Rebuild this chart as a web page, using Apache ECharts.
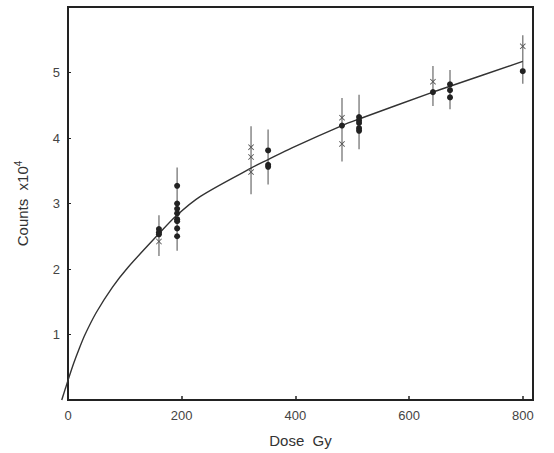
<!DOCTYPE html>
<html>
<head>
<meta charset="utf-8">
<script src="https://cdn.jsdelivr.net/npm/echarts@6/dist/echarts.min.js"></script>
<style>
  html, body { margin: 0; padding: 0; background: #fff; }
  #chart { width: 554px; height: 453px; }
</style>
</head>
<body>
<div id="chart"></div>
<script>
// fitted curve [dose, counts x10^4]
var fitCurve = [
  [0, 0.30], [10, 0.56], [20, 0.79], [30, 1.00], [50, 1.34], [78, 1.72],
  [105, 2.02], [159, 2.53], [190, 2.81], [233, 3.11], [322, 3.54],
  [352, 3.67], [394, 3.85], [482, 4.19], [512, 4.29], [642, 4.70],
  [672, 4.79], [800, 5.17]
];
// short piece of the curve left of the y axis, down to zero
var fitTail = [[-11, 0], [0, 0.30]];

// measured points, filled dots
var dotPoints = [
  [160, 2.61], [160, 2.56], [160, 2.53],
  [192, 3.27], [192, 3.00], [192, 2.92], [192, 2.85], [192, 2.76], [192, 2.73], [192, 2.62], [192, 2.50],
  [352, 3.81], [352, 3.59], [352, 3.56],
  [482, 4.19],
  [512, 4.32], [512, 4.27], [512, 4.23], [512, 4.15], [512, 4.11],
  [642, 4.70],
  [672, 4.82], [672, 4.73], [672, 4.62],
  [800, 5.02]
];

// measured points, crosses
var crossPoints = [
  [160, 2.42],
  [322, 3.86], [322, 3.71], [322, 3.48],
  [482, 4.31], [482, 3.91],
  [642, 4.86],
  [800, 5.40]
];

// error bars [dose, low, high]
var errorBars = [
  [160, 2.20, 2.82],
  [192, 2.28, 3.55],
  [322, 3.14, 4.18],
  [352, 3.29, 4.13],
  [482, 3.64, 4.61],
  [512, 3.83, 4.66],
  [642, 4.49, 5.10],
  [672, 4.44, 5.04],
  [800, 4.83, 5.57]
];

var xTicks = [0, 200, 400, 600, 800];
var yTicks = [1, 2, 3, 4, 5];

var ink = '#222';
var labelColor = '#444';

var chart = echarts.init(document.getElementById('chart'), null, { renderer: 'svg' });
chart.setOption({
  animation: false,
  backgroundColor: '#fff',
  grid: {
    left: 68, right: 21, top: 7, bottom: 48,
    show: true, borderColor: ink, borderWidth: 2, backgroundColor: 'transparent'
  },
  xAxis: {
    type: 'value',
    min: 0, max: 818, interval: 200,
    name: 'Dose  Gy',
    nameLocation: 'middle',
    nameGap: 33,
    nameTextStyle: { color: '#333', fontSize: 15, fontFamily: 'Liberation Sans' },
    axisLine: { show: true, lineStyle: { color: ink, width: 2 } },
    axisTick: { show: true, inside: true, length: 4, lineStyle: { color: ink, width: 1.5 } },
    axisLabel: {
      color: labelColor, fontSize: 13, fontFamily: 'Liberation Sans', margin: 9,
      formatter: function(v) { return xTicks.indexOf(v) >= 0 ? String(v) : ''; }
    },
    splitLine: { show: false }
  },
  yAxis: {
    type: 'value',
    min: 0, max: 6, interval: 1,
    name: 'Counts  x10{sup|4}',
    nameLocation: 'middle',
    nameGap: 36,
    nameTextStyle: {
      color: '#333', fontSize: 15, fontFamily: 'Liberation Sans',
      rich: { sup: { fontSize: 10, verticalAlign: 'bottom', padding: [0, 0, 9, 0], color: '#333' } }
    },
    axisLine: { show: true, lineStyle: { color: ink, width: 2 } },
    axisTick: { show: true, inside: true, length: 3, lineStyle: { color: ink, width: 1 } },
    axisLabel: {
      color: labelColor, fontSize: 13, fontFamily: 'Liberation Sans', margin: 8,
      formatter: function(v) { return yTicks.indexOf(v) >= 0 ? String(v) : ''; }
    },
    splitLine: { show: false }
  },
  series: [
    {
      type: 'custom',
      data: errorBars,
      renderItem: function(params, api) {
        var top = api.coord([api.value(0), api.value(2)]);
        var bottom = api.coord([api.value(0), api.value(1)]);
        return {
          type: 'line',
          shape: { x1: top[0], y1: top[1], x2: bottom[0], y2: bottom[1] },
          style: { stroke: '#888', lineWidth: 1.5 }
        };
      },
      z: 1
    },
    {
      type: 'line',
      data: fitCurve,
      smooth: 0.3,
      showSymbol: false,
      lineStyle: { color: '#333', width: 1.4 },
      z: 2
    },
    {
      type: 'custom',
      data: [0],
      clip: false,
      renderItem: function(params, api) {
        var pts = fitTail.map(function(p) { return api.coord(p); });
        return {
          type: 'polyline',
          shape: { points: pts },
          style: { stroke: '#333', lineWidth: 1.4, fill: null }
        };
      },
      z: 2
    },
    {
      type: 'scatter',
      data: dotPoints,
      symbol: 'circle',
      symbolSize: 6,
      itemStyle: { color: ink, opacity: 1 },
      z: 3
    },
    {
      type: 'scatter',
      data: crossPoints,
      symbol: 'path://M0,1L1,0L5,4L9,0L10,1L6,5L10,9L9,10L5,6L1,10L0,9L4,5Z',
      symbolSize: 6,
      itemStyle: { color: '#555', opacity: 1 },
      z: 3
    }
  ]
});
window.addEventListener('resize', function() { chart.resize(); });
</script>
</body>
</html>
